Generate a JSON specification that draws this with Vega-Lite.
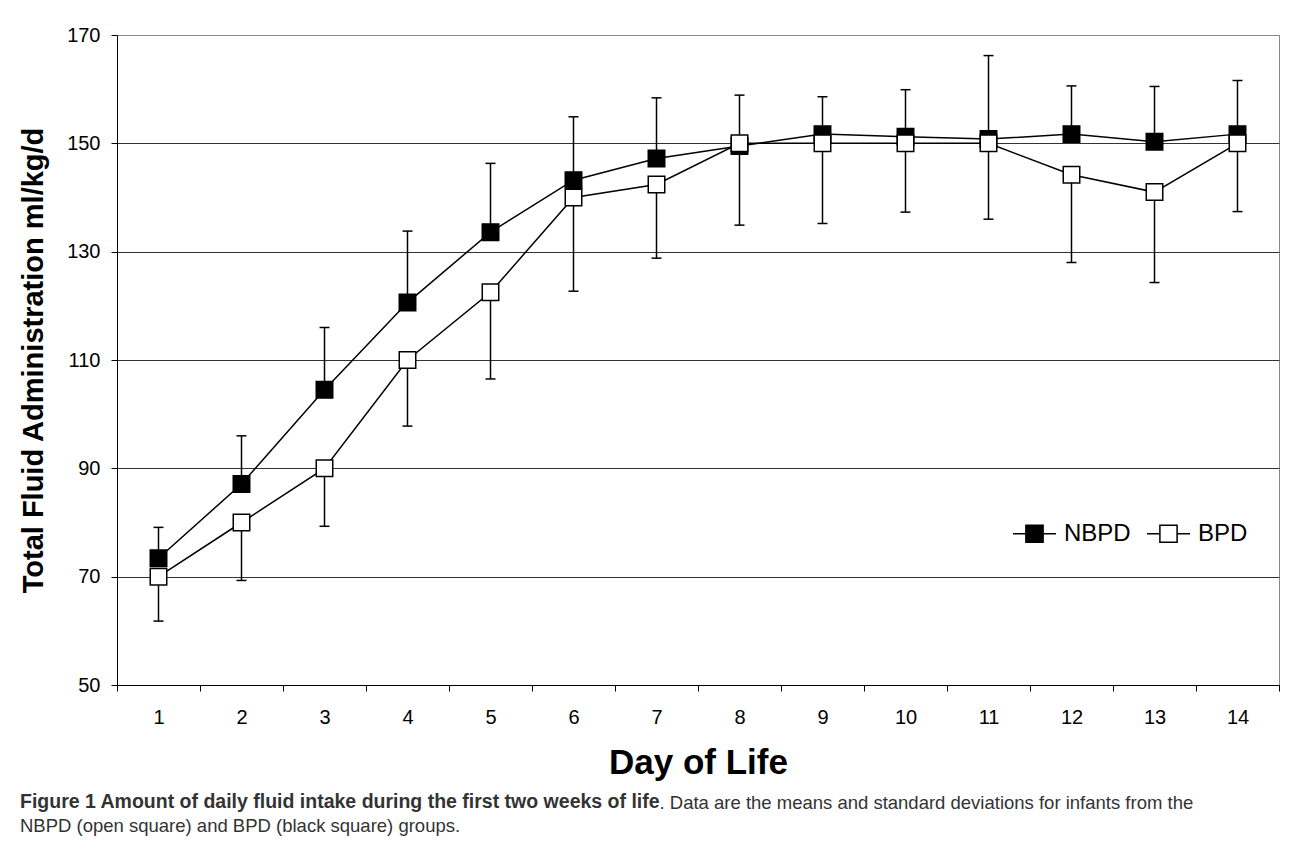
{
  "$schema": "https://vega.github.io/schema/vega-lite/v6.json",
  "width": 1162,
  "height": 650,
  "autosize": {"type": "none"},
  "padding": {"left": 117, "top": 35, "right": 11, "bottom": 170},
  "background": "white",
  "config": {
    "view": {"stroke": "#888888", "strokeWidth": 1},
    "axis": {
      "labelFont": "Liberation Sans",
      "titleFont": "Liberation Sans",
      "labelColor": "black",
      "titleColor": "black",
      "domainColor": "black",
      "tickColor": "black",
      "domainWidth": 1,
      "tickWidth": 1
    }
  },
  "title": {
    "text": "Figure 1 Amount of daily fluid intake during the first two weeks of life",
    "subtitle": "NBPD (open square) and BPD (black square) groups.",
    "orient": "bottom",
    "anchor": "start",
    "frame": "group",
    "dx": -97,
    "offset": -19,
    "font": "Liberation Sans",
    "fontSize": 19.5,
    "fontWeight": "bold",
    "color": "#333333",
    "subtitleFont": "Liberation Sans",
    "subtitleFontSize": 18.5,
    "subtitleFontWeight": "normal",
    "subtitleColor": "#333333",
    "subtitlePadding": 4.5
  },
  "data": {
    "values": [
      {"day": 1, "series": "NBPD", "value": 73.4, "err": 79.1},
      {"day": 2, "series": "NBPD", "value": 87.1, "err": 96.0},
      {"day": 3, "series": "NBPD", "value": 104.5, "err": 116.0},
      {"day": 4, "series": "NBPD", "value": 120.6, "err": 133.8},
      {"day": 5, "series": "NBPD", "value": 133.6, "err": 146.3},
      {"day": 6, "series": "NBPD", "value": 143.2, "err": 154.9},
      {"day": 7, "series": "NBPD", "value": 147.2, "err": 158.4},
      {"day": 8, "series": "NBPD", "value": 149.5, "err": 158.9},
      {"day": 9, "series": "NBPD", "value": 151.7, "err": 158.6},
      {"day": 10, "series": "NBPD", "value": 151.2, "err": 159.9},
      {"day": 11, "series": "NBPD", "value": 150.8, "err": 166.2},
      {"day": 12, "series": "NBPD", "value": 151.7, "err": 160.6},
      {"day": 13, "series": "NBPD", "value": 150.3, "err": 160.5},
      {"day": 14, "series": "NBPD", "value": 151.7, "err": 161.6},
      {"day": 1, "series": "BPD", "value": 70.0, "err": 61.8},
      {"day": 2, "series": "BPD", "value": 80.0, "err": 69.3},
      {"day": 3, "series": "BPD", "value": 90.0, "err": 79.3},
      {"day": 4, "series": "BPD", "value": 110.0, "err": 97.8},
      {"day": 5, "series": "BPD", "value": 122.5, "err": 106.5},
      {"day": 6, "series": "BPD", "value": 140.0, "err": 122.7},
      {"day": 7, "series": "BPD", "value": 142.4, "err": 128.8},
      {"day": 8, "series": "BPD", "value": 150.0, "err": 134.9},
      {"day": 9, "series": "BPD", "value": 150.0, "err": 135.2},
      {"day": 10, "series": "BPD", "value": 150.0, "err": 137.3},
      {"day": 11, "series": "BPD", "value": 150.0, "err": 136.0},
      {"day": 12, "series": "BPD", "value": 144.2, "err": 128.0},
      {"day": 13, "series": "BPD", "value": 141.0, "err": 124.3},
      {"day": 14, "series": "BPD", "value": 150.0, "err": 137.4}
    ]
  },
  "encoding": {
    "y": {
      "field": "value",
      "type": "quantitative",
      "scale": {"domain": [50, 170], "nice": false, "zero": false},
      "axis": {
        "title": "Total Fluid Administration ml/kg/d",
        "titleFontSize": 29,
        "titleFontWeight": "bold",
        "titlePadding": 18,
        "values": [50, 70, 90, 110, 130, 150, 170],
        "labelFontSize": 20,
        "labelPadding": 11,
        "tickSize": 6,
        "grid": true,
        "gridColor": {"condition": {"test": "datum.value == 170", "value": "#888888"}, "value": "#333333"},
        "gridWidth": 1
      }
    }
  },
  "resolve": {"axis": {"x": "independent"}},
  "layer": [
    {
      "mark": {"type": "rule", "color": "black", "strokeWidth": 1.5},
      "encoding": {
        "x": {
          "field": "day",
          "type": "ordinal",
          "scale": {"type": "band", "paddingInner": 0, "paddingOuter": 0},
          "axis": {
            "orient": "bottom",
            "title": "Day of Life",
            "titleFontSize": 35,
            "titleFontWeight": "bold",
            "titlePadding": 18,
            "labelAngle": 0,
            "labelFontSize": 20,
            "labelPadding": 16,
            "tickBand": "extent",
            "tickSize": 6,
            "grid": false
          }
        },
        "y2": {"field": "err"}
      }
    },
    {
      "mark": {"type": "tick", "color": "black", "thickness": 1.5, "size": 10, "opacity": 1},
      "encoding": {
        "x": {
          "field": "day",
          "type": "ordinal",
          "scale": {"type": "band", "paddingInner": 0, "paddingOuter": 0},
          "axis": {
            "orient": "bottom",
            "domain": false,
            "ticks": false,
            "labels": false,
            "grid": false,
            "title": ". Data are the means and standard deviations for infants from the",
            "titleX": 542,
            "titleY": 108,
            "titleAngle": 0,
            "titleAlign": "left",
            "titleAnchor": "start",
            "titleBaseline": "top",
            "titleFont": "Liberation Sans",
            "titleFontSize": 18.5,
            "titleFontWeight": "normal",
            "titleColor": "#333333"
          }
        },
        "y": {"field": "err", "type": "quantitative"}
      }
    },
    {
      "mark": {"type": "line", "color": "black", "strokeWidth": 1.5},
      "encoding": {
        "x": {
          "field": "day",
          "type": "ordinal",
          "scale": {"type": "band", "paddingInner": 0, "paddingOuter": 0},
          "axis": null
        },
        "detail": {"field": "series"}
      }
    },
    {
      "mark": {"type": "point", "shape": "square", "filled": true, "size": 272, "stroke": "black", "strokeWidth": 1.5, "opacity": 1},
      "encoding": {
        "x": {
          "field": "day",
          "type": "ordinal",
          "scale": {"type": "band", "paddingInner": 0, "paddingOuter": 0},
          "axis": null
        },
        "fill": {
          "field": "series",
          "type": "nominal",
          "scale": {"domain": ["NBPD", "BPD"], "range": ["black", "white"]},
          "legend": {
            "title": null,
            "orient": "none",
            "legendX": 895,
            "legendY": 476,
            "direction": "horizontal",
            "symbolType": "M-1,0H-0.4M0.4,0H1M-0.4,-0.4H0.4V0.4H-0.4Z",
            "symbolSize": 1849,
            "symbolStrokeColor": "black",
            "symbolStrokeWidth": 1.5,
            "labelFont": "Liberation Sans",
            "labelFontSize": 24,
            "labelColor": "black",
            "labelOffset": 7,
            "columnPadding": 13
          }
        }
      }
    }
  ]
}
